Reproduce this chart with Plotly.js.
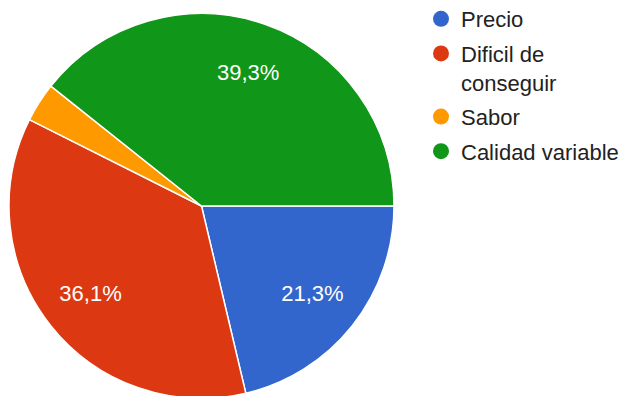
<!DOCTYPE html>
<html>
<head>
<meta charset="utf-8">
<script src="https://cdn.plot.ly/plotly-3.0.1.min.js"></script>
<style>
html,body{margin:0;padding:0;overflow:hidden;background:#fff;}
#chart{width:620px;height:399px;}
</style>
</head>
<body>
<div id="chart"></div>
<script>
var labels = ['Precio', 'Dificil de<br>conseguir', 'Sabor', 'Calidad variable'];
var values = [21.3, 36.1, 3.3, 39.3];
var colors = ['#3366CC', '#DC3912', '#FF9900', '#109618'];
var showLabel = [true, true, false, true];

var W = 620, H = 399;
var FONT = 'Arial, "Liberation Sans", sans-serif';
var dom = {x: [9 / W, 394 / W], y: [0, (H - 13) / H]};

var pie = {
  type: 'pie',
  labels: labels,
  values: values,
  sort: false,
  direction: 'clockwise',
  rotation: 90,
  marker: {colors: colors, line: {color: '#ffffff', width: 1.5}},
  textinfo: 'none',
  domain: dom,
  showlegend: false,
  hoverinfo: 'none'
};

// transparent ring carrying the percentage labels further out
var labelRing = {
  type: 'pie',
  labels: labels,
  values: values,
  sort: false,
  direction: 'clockwise',
  rotation: 90,
  hole: 0.47,
  marker: {colors: colors.map(function(){ return 'rgba(0,0,0,0)'; }), line: {width: 0}},
  texttemplate: showLabel.map(function(s){ return s ? '%{percent:.1%}' : ''; }),
  textposition: 'inside',
  insidetextorientation: 'horizontal',
  textfont: {family: FONT, size: 22, color: '#ffffff'},
  domain: dom,
  showlegend: false,
  hoverinfo: 'none'
};

var legendTraces = labels.map(function(lab, i) {
  return {
    type: 'scatter',
    mode: 'markers',
    x: [null], y: [null],
    name: lab,
    legendgroup: 'g' + i,
    marker: {color: colors[i], size: 20, symbol: 'circle'},
    showlegend: true,
    hoverinfo: 'none'
  };
});

var layout = {
  width: W, height: H,
  margin: {l: 0, r: 0, t: 0, b: 0, autoexpand: false},
  paper_bgcolor: '#ffffff',
  plot_bgcolor: '#ffffff',
  separators: ',.',
  xaxis: {visible: false},
  yaxis: {visible: false},
  showlegend: true,
  legend: {
    x: 421 / W, xanchor: 'left',
    y: 1.005, yanchor: 'top',
    valign: 'top',
    tracegroupgap: 3,
    traceorder: 'grouped',
    font: {family: FONT, size: 22, color: '#222222'},
    bgcolor: 'rgba(0,0,0,0)'
  }
};

Plotly.newPlot('chart', [pie, labelRing].concat(legendTraces), layout, {staticPlot: true, displayModeBar: false});
</script>
</body>
</html>
